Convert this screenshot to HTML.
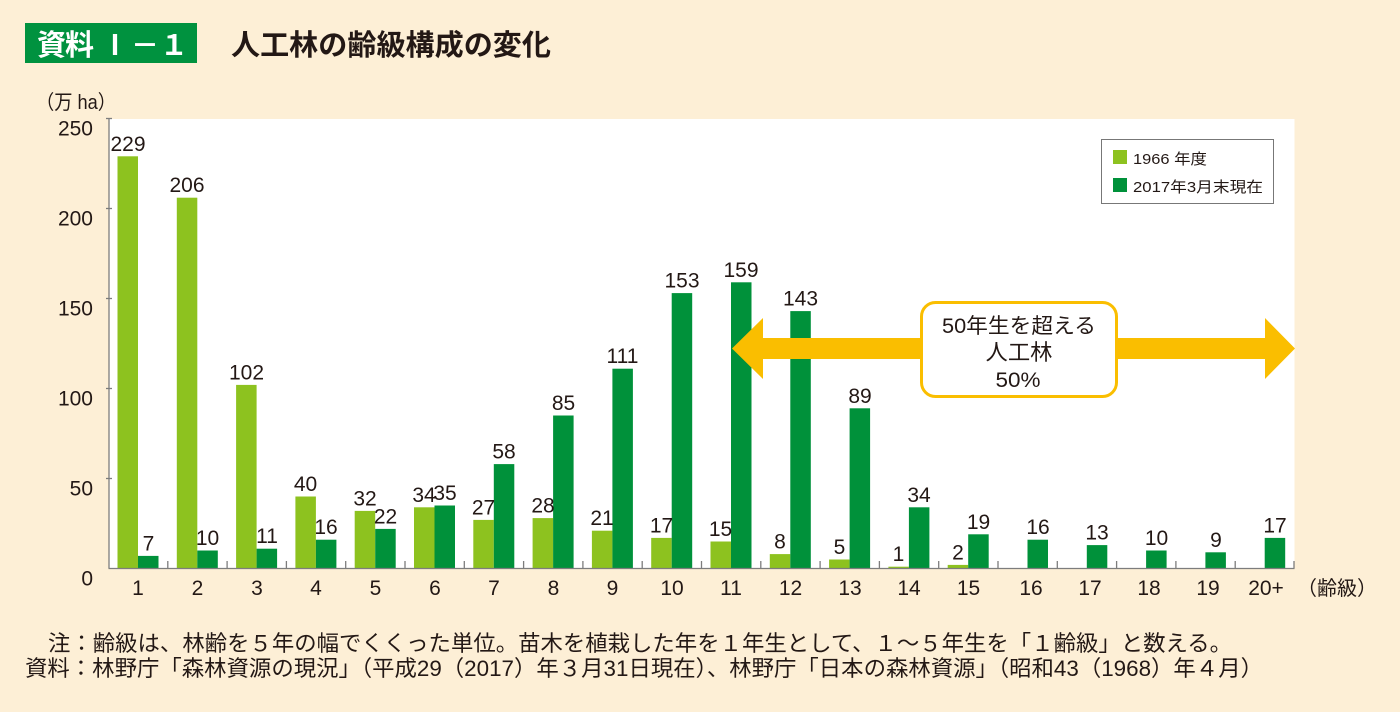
<!DOCTYPE html>
<html><head><meta charset="utf-8"><style>
html,body{margin:0;padding:0;background:#FDEFD6;}
svg{display:block;}
text{font-family:"Liberation Sans","Noto Sans CJK JP",sans-serif;fill:#231815;}
.v{font-size:21px;text-anchor:middle;}
.xl{font-size:21px;text-anchor:middle;}
.yl{font-size:21px;text-anchor:end;}
</style></head><body>
<svg width="1400" height="712" viewBox="0 0 1400 712" xmlns="http://www.w3.org/2000/svg">
<rect x="0" y="0" width="1400" height="712" fill="#FDEFD6"/>
<!-- title -->
<rect x="25" y="23" width="172" height="40" fill="#00923F"/>
<text x="37" y="55" style="font-size:29px;font-weight:bold;fill:#fff" textLength="57">資料</text>
<text x="115" y="55" style="font-size:28px;font-weight:bold;fill:#fff;text-anchor:middle">Ⅰ</text>
<text x="145" y="55" style="font-size:28px;font-weight:bold;fill:#fff;text-anchor:middle">－</text>
<text x="174" y="55" style="font-size:28px;font-weight:bold;fill:#fff;text-anchor:middle">１</text>
<text x="231" y="55" style="font-size:29px;font-weight:bold" textLength="320" lengthAdjust="spacingAndGlyphs">人工林の齢級構成の変化</text>
<text x="36" y="109" style="font-size:20px" textLength="80" lengthAdjust="spacingAndGlyphs">（万 ha）</text>

<!-- plot area -->
<rect x="109" y="119" width="1185.5" height="449.5" fill="#fff"/>

<!-- bars light -->
<g fill="#8DC21F">
<rect x="117.5" y="156.3" width="20.5" height="412.2"/>
<rect x="176.8" y="197.7" width="20.5" height="370.8"/>
<rect x="236.1" y="384.9" width="20.5" height="183.6"/>
<rect x="295.4" y="496.5" width="20.5" height="72"/>
<rect x="354.7" y="510.9" width="20.5" height="57.6"/>
<rect x="414.0" y="507.3" width="20.5" height="61.2"/>
<rect x="473.3" y="519.9" width="20.5" height="48.6"/>
<rect x="532.6" y="518.1" width="20.5" height="50.4"/>
<rect x="591.9" y="530.7" width="20.5" height="37.8"/>
<rect x="651.2" y="537.9" width="20.5" height="30.6"/>
<rect x="710.5" y="541.5" width="20.5" height="27"/>
<rect x="769.8" y="554.1" width="20.5" height="14.4"/>
<rect x="829.1" y="559.5" width="20.5" height="9"/>
<rect x="888.4" y="566.7" width="20.5" height="1.8"/>
<rect x="947.7" y="564.9" width="20.5" height="3.6"/>
</g>
<!-- bars dark -->
<g fill="#00913A">
<rect x="138.0" y="555.9" width="20.5" height="12.6"/>
<rect x="197.3" y="550.5" width="20.5" height="18"/>
<rect x="256.6" y="548.7" width="20.5" height="19.8"/>
<rect x="315.9" y="539.7" width="20.5" height="28.8"/>
<rect x="375.2" y="528.9" width="20.5" height="39.6"/>
<rect x="434.5" y="505.5" width="20.5" height="63"/>
<rect x="493.8" y="464.1" width="20.5" height="104.4"/>
<rect x="553.1" y="415.5" width="20.5" height="153"/>
<rect x="612.4" y="368.7" width="20.5" height="199.8"/>
<rect x="671.7" y="293.1" width="20.5" height="275.4"/>
<rect x="731.0" y="282.3" width="20.5" height="286.2"/>
<rect x="790.3" y="311.1" width="20.5" height="257.4"/>
<rect x="849.6" y="408.3" width="20.5" height="160.2"/>
<rect x="908.9" y="507.3" width="20.5" height="61.2"/>
<rect x="968.2" y="534.3" width="20.5" height="34.2"/>
<rect x="1027.5" y="539.7" width="20.5" height="28.8"/>
<rect x="1086.8" y="545.1" width="20.5" height="23.4"/>
<rect x="1146.1" y="550.5" width="20.5" height="18"/>
<rect x="1205.4" y="552.3" width="20.5" height="16.2"/>
<rect x="1264.7" y="537.9" width="20.5" height="30.6"/>
</g>

<!-- value labels light -->
<text class="v" x="128" y="151">229</text>
<text class="v" x="187" y="192">206</text>
<text class="v" x="246.5" y="379.5">102</text>
<text class="v" x="305.5" y="491">40</text>
<text class="v" x="365" y="505.5">32</text>
<text class="v" x="424" y="502">34</text>
<text class="v" x="483.5" y="514.5">27</text>
<text class="v" x="543" y="512.5">28</text>
<text class="v" x="602" y="525">21</text>
<text class="v" x="661.5" y="532.5">17</text>
<text class="v" x="720.5" y="536">15</text>
<text class="v" x="780" y="548.5">8</text>
<text class="v" x="839.5" y="554">5</text>
<text class="v" x="898.5" y="561">1</text>
<text class="v" x="958" y="559.5">2</text>
<!-- value labels dark -->
<text class="v" x="148.5" y="550.5">7</text>
<text class="v" x="207.5" y="545">10</text>
<text class="v" x="267" y="543">11</text>
<text class="v" x="326" y="534">16</text>
<text class="v" x="385.5" y="523.5">22</text>
<text class="v" x="445" y="500">35</text>
<text class="v" x="504" y="458.5">58</text>
<text class="v" x="563.5" y="410">85</text>
<text class="v" x="622.5" y="363">111</text>
<text class="v" x="682" y="287.5">153</text>
<text class="v" x="741" y="277">159</text>
<text class="v" x="800.5" y="305.5">143</text>
<text class="v" x="860" y="403">89</text>
<text class="v" x="919" y="502">34</text>
<text class="v" x="978.5" y="529">19</text>
<text class="v" x="1038" y="534">16</text>
<text class="v" x="1097" y="539.5">13</text>
<text class="v" x="1156.5" y="545">10</text>
<text class="v" x="1216" y="547">9</text>
<text class="v" x="1275" y="532.5">17</text>

<!-- axes -->
<g stroke="#7d7d7d" stroke-width="1.3" fill="none">
<line x1="109" y1="118.5" x2="109" y2="568.5"/>
<line x1="108.5" y1="568.5" x2="1294.5" y2="568.5"/>
<line x1="106" y1="118.5" x2="112" y2="118.5"/>
<line x1="106" y1="208.5" x2="112" y2="208.5"/>
<line x1="106" y1="298.5" x2="112" y2="298.5"/>
<line x1="106" y1="388.5" x2="112" y2="388.5"/>
<line x1="106" y1="478.5" x2="112" y2="478.5"/>
<line x1="167.8" y1="561" x2="167.8" y2="568.5"/>
<line x1="227.1" y1="561" x2="227.1" y2="568.5"/>
<line x1="286.4" y1="561" x2="286.4" y2="568.5"/>
<line x1="345.7" y1="561" x2="345.7" y2="568.5"/>
<line x1="405.0" y1="561" x2="405.0" y2="568.5"/>
<line x1="464.3" y1="561" x2="464.3" y2="568.5"/>
<line x1="523.6" y1="561" x2="523.6" y2="568.5"/>
<line x1="582.9" y1="561" x2="582.9" y2="568.5"/>
<line x1="642.2" y1="561" x2="642.2" y2="568.5"/>
<line x1="701.5" y1="561" x2="701.5" y2="568.5"/>
<line x1="760.8" y1="561" x2="760.8" y2="568.5"/>
<line x1="820.1" y1="561" x2="820.1" y2="568.5"/>
<line x1="879.4" y1="561" x2="879.4" y2="568.5"/>
<line x1="938.7" y1="561" x2="938.7" y2="568.5"/>
<line x1="998.0" y1="561" x2="998.0" y2="568.5"/>
<line x1="1057.3" y1="561" x2="1057.3" y2="568.5"/>
<line x1="1116.6" y1="561" x2="1116.6" y2="568.5"/>
<line x1="1175.9" y1="561" x2="1175.9" y2="568.5"/>
<line x1="1235.2" y1="561" x2="1235.2" y2="568.5"/>
<line x1="1294" y1="561" x2="1294" y2="568.5"/>
</g>

<!-- y labels -->
<text class="yl" x="93" y="135.5">250</text>
<text class="yl" x="93" y="225.5">200</text>
<text class="yl" x="93" y="315.5">150</text>
<text class="yl" x="93" y="405.5">100</text>
<text class="yl" x="93" y="495.5">50</text>
<text class="yl" x="93" y="585.5">0</text>

<!-- x labels -->
<text class="xl" x="138" y="595">1</text>
<text class="xl" x="197.5" y="595">2</text>
<text class="xl" x="257" y="595">3</text>
<text class="xl" x="316" y="595">4</text>
<text class="xl" x="375.5" y="595">5</text>
<text class="xl" x="435" y="595">6</text>
<text class="xl" x="494" y="595">7</text>
<text class="xl" x="553.5" y="595">8</text>
<text class="xl" x="612.5" y="595">9</text>
<text class="xl" x="672" y="595">10</text>
<text class="xl" x="731" y="595">11</text>
<text class="xl" x="790.5" y="595">12</text>
<text class="xl" x="850" y="595">13</text>
<text class="xl" x="909" y="595">14</text>
<text class="xl" x="968.5" y="595">15</text>
<text class="xl" x="1031" y="595">16</text>
<text class="xl" x="1090" y="595">17</text>
<text class="xl" x="1149" y="595">18</text>
<text class="xl" x="1208" y="595">19</text>
<text class="xl" x="1266" y="595">20+</text>
<text x="1297" y="595" style="font-size:20px" textLength="80" lengthAdjust="spacingAndGlyphs">（齢級）</text>

<!-- legend -->
<rect x="1101.5" y="139.5" width="172" height="64" fill="#fff" stroke="#777" stroke-width="1"/>
<rect x="1113" y="150" width="14" height="14" fill="#8DC21F"/>
<rect x="1113" y="178" width="14" height="14" fill="#00913A"/>
<text x="1133" y="164" style="font-size:15px" textLength="74" lengthAdjust="spacingAndGlyphs">1966 年度</text>
<text x="1133" y="192" style="font-size:15px" textLength="130" lengthAdjust="spacingAndGlyphs">2017年3月末現在</text>

<!-- arrow -->
<polygon fill="#FABE00" points="732,348.5 763,318 763,338 1265,338 1265,318 1295,348.5 1265,379 1265,359 763,359 763,379"/>
<rect x="921.5" y="302.5" width="195" height="94" rx="14" ry="14" fill="#fff" stroke="#FABE00" stroke-width="3"/>
<text x="1019" y="333" style="font-size:21px;text-anchor:middle" textLength="154" lengthAdjust="spacingAndGlyphs">50年生を超える</text>
<text x="1019" y="360" style="font-size:22px;text-anchor:middle" textLength="67" lengthAdjust="spacingAndGlyphs">人工林</text>
<text x="1018" y="387" style="font-size:21px;text-anchor:middle" textLength="45" lengthAdjust="spacingAndGlyphs">50%</text>

<!-- notes -->
<text x="48" y="651" style="font-size:22px" textLength="1184" lengthAdjust="spacingAndGlyphs">注：齢級は、林齢を５年の幅でくくった単位。苗木を植栽した年を１年生として、１～５年生を「１齢級」と数える。</text>
<text x="25" y="676" style="font-size:22px" textLength="1238" lengthAdjust="spacingAndGlyphs">資料：林野庁「森林資源の現況」（平成29（2017）年３月31日現在）、林野庁「日本の森林資源」（昭和43（1968）年４月）</text>
</svg>
</body></html>
